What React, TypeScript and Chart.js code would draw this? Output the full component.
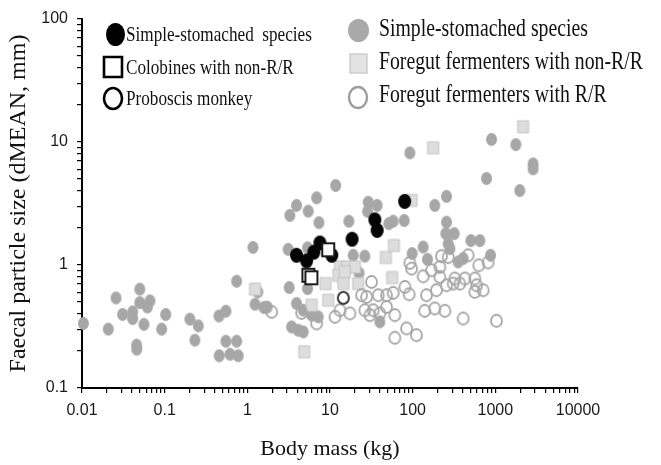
import React, { useEffect, useRef } from 'react';
import { Chart, registerables } from 'chart.js';

Chart.register(...registerables);

// ---------- data (body mass kg, faecal particle size mm) ----------
const simpleGrayMass = [
  0.0104, 0.0208, 0.0258, 0.031, 0.041, 0.041, 0.05, 0.05, 0.0664, 0.0617, 0.0562, 0.0458, 0.046,
  0.103, 0.092, 0.202, 0.255, 0.232, 0.454, 0.551, 0.743, 0.551, 0.743, 0.457, 0.617, 0.776,
  1.17, 1.34, 1.24, 1.59, 1.74,
  11.7, 6.89, 3.94, 3.27, 5.45, 7.34, 3.12, 5.36, 16.9, 29.0, 28.5, 37.2, 51.5, 58.1, 79,
  257, 185, 257, 252, 318, 269, 282, 134, 98.6, 151, 19.1, 26.4, 3.21, 5.36, 22.5, 3.94,
  4.74, 6.0, 7.2, 3.43, 4.12, 4.74, 40.1, 92.5, 506, 650, 875, 355, 408, 899, 1770, 2865,
  2865, 783, 1977,
];
const simpleGraySize = [
  0.335, 0.301, 0.54, 0.396, 0.416, 0.367, 0.636, 0.495, 0.511, 0.456, 0.329, 0.223, 0.207,
  0.396, 0.301, 0.363, 0.32, 0.245, 0.385, 0.421, 0.738, 0.24, 0.24, 0.183, 0.188, 0.183,
  1.39, 0.604, 0.48, 0.451, 0.455,
  4.43, 3.52, 3.05, 2.53, 2.74, 2.21, 1.34, 1.38, 2.27, 3.24, 2.73, 3.05, 2.17, 2.27, 2.3,
  3.61, 3.05, 2.23, 1.8, 1.8, 1.49, 1.36, 1.4, 1.24, 1.11, 1.2, 1.18, 0.656, 0.644, 0.861, 0.486,
  0.429, 0.391, 0.379, 0.314, 0.295, 0.286, 0.345, 8.16, 1.58, 1.58, 1.2, 1.06, 1.13, 10.5, 9.53, 6.64,
  6.05, 5.05, 4.03,
];

const simpleBlackMass = [3.94, 5.21, 6.38, 7.55, 10.5, 18.5, 34.9, 37.2, 80];
const simpleBlackSize = [1.2, 1.08, 1.27, 1.51, 1.2, 1.62, 2.33, 1.91, 3.29];

const colobineMass = [9.51, 5.48, 5.96];
const colobineSize = [1.33, 0.825, 0.787];

const proboscisMass = [14.5];
const proboscisSize = [0.54];

const foregutNonRRMass = [59.3, 47.4, 13.2, 16.1, 20.0, 12.6, 15.1, 8.85, 14.5, 21.9, 56.5, 1.24, 6.0, 9.51, 4.88, 97, 177, 2168];
const foregutNonRRSize = [1.44, 1.15, 0.964, 0.964, 0.964, 0.825, 0.877, 0.706, 0.706, 0.706, 0.791, 0.636, 0.471, 0.517, 0.197, 3.35, 8.96, 13.3];

const foregutRRMass = [
  1.97, 4.54, 6.89, 11.5, 13.2, 17.4, 24.1, 27.7, 31.8, 26.4, 38.3, 48.3, 58.1, 33.3, 40.1, 48.3,
  60.9, 30.4, 80.5, 90.7, 92.5, 97, 134, 169, 213, 257, 194, 147, 223, 269, 213, 324, 428, 469,
  631, 818, 565, 593, 712, 565, 140, 185, 245, 408, 84.4, 111, 60.9, 1033, 372, 309,
];
const foregutRRSize = [
  0.416, 0.408, 0.335, 0.379, 0.429, 0.404, 0.568, 0.55, 0.728, 0.429, 0.568, 0.568, 0.593, 0.429, 0.404, 0.456,
  0.391, 0.391, 0.663, 0.578, 1.04, 0.935, 0.809, 0.906, 0.8, 0.684, 0.624, 0.568, 1.18, 1.16, 0.964, 0.776, 0.776, 1.2,
  0.994, 1.05, 0.776, 0.684, 0.624, 0.604, 0.424, 0.443, 0.424, 0.367, 0.305, 0.269, 0.256, 0.352, 0.706, 0.706,
];

const xTickValues = [0.01, 0.1, 1, 10, 100, 1000, 10000];
const xTickLabels = ['0.01', '0.1', '1', '10', '100', '1000', '10000'];
const yTickValues = [0.1, 1, 10, 100];
const yTickLabels = ['0.1', '1', '10', '100'];

const legendLeftLabels = ['Simple-stomached  species', 'Colobines with non-R/R', 'Proboscis monkey'];
const legendRightLabels = ['Simple-stomached species', 'Foregut fermenters with non-R/R', 'Foregut fermenters with R/R'];

const xTitle = 'Body mass (kg)';
const yTitle = 'Faecal particle size (dMEAN, mm)';

// ---------- helpers ----------
const toPoints = (xs: number[], ys: number[]) => xs.map((x, i) => ({ x, y: ys[i] }));

function ellipseMarker(w: number, h: number, fill: string | null, stroke: string | null, lw: number) {
  const c = document.createElement('canvas');
  const pad = Math.ceil(lw) + 1;
  c.width = w + pad * 2;
  c.height = h + pad * 2;
  const ctx = c.getContext('2d')!;
  ctx.beginPath();
  ctx.ellipse(c.width / 2, c.height / 2, w / 2, h / 2, 0, 0, Math.PI * 2);
  if (fill) { ctx.fillStyle = fill; ctx.fill(); }
  if (stroke) { ctx.strokeStyle = stroke; ctx.lineWidth = lw; ctx.stroke(); }
  return c;
}

function rectMarker(w: number, h: number, fill: string | null, stroke: string | null, lw: number) {
  const c = document.createElement('canvas');
  const pad = Math.ceil(lw) + 1;
  c.width = w + pad * 2;
  c.height = h + pad * 2;
  const ctx = c.getContext('2d')!;
  ctx.beginPath();
  ctx.rect(pad, pad, w, h);
  if (fill) { ctx.fillStyle = fill; ctx.fill(); }
  if (stroke) { ctx.strokeStyle = stroke; ctx.lineWidth = lw; ctx.stroke(); }
  return c;
}

function logTicks(min: number, max: number) {
  const out: { value: number }[] = [];
  const e0 = Math.round(Math.log10(min));
  const e1 = Math.round(Math.log10(max));
  for (let e = e0; e < e1; e++) {
    for (let k = 1; k <= 9; k++) out.push({ value: parseFloat((k * Math.pow(10, e)).toPrecision(6)) });
  }
  out.push({ value: max });
  return out;
}

function labelFor(values: number[], labels: string[]) {
  return (v: number | string) => {
    const n = Number(v);
    const i = values.findIndex((t) => Math.abs(Math.log10(t) - Math.log10(n)) < 1e-6);
    return i >= 0 ? labels[i] : '';
  };
}

export default function App() {
  const ref = useRef<HTMLCanvasElement | null>(null);

  useEffect(() => {
    if (!ref.current) return;

    const grayDot = ellipseMarker(11, 13, '#a7a7a7', null, 0);
    const blackDot = ellipseMarker(13, 15, '#050505', null, 0);
    const colobineSq = rectMarker(12, 13, '#ffffff', '#1a1a1a', 2);
    const proboscisRing = ellipseMarker(11, 12, '#ffffff', '#3a3a3a', 2);
    const lightSq = rectMarker(11, 12, '#dddddd', '#c4c4c4', 1);
    const openRing = ellipseMarker(11, 12, null, '#a6a6a6', 1.8);

    const legBlack = ellipseMarker(19, 23, '#000000', null, 0);
    const legSq = rectMarker(18, 20, '#ffffff', '#000000', 2.6);
    const legRing = ellipseMarker(18, 21, '#ffffff', '#000000', 2.6);
    const legGray = ellipseMarker(21, 23, '#a9a9a9', null, 0);
    const legLightSq = rectMarker(17, 19, '#e3e3e3', '#cdcdcd', 1.5);
    const legOpen = ellipseMarker(18, 21, '#ffffff', '#9d9d9d', 2.4);

    const legendPlugin = {
      id: 'panelLegend',
      afterDraw(chart: any) {
        const ctx: CanvasRenderingContext2D = chart.ctx;
        ctx.save();
        const drawIcon = (img: HTMLCanvasElement, x: number, y: number) =>
          ctx.drawImage(img, Math.round(x - img.width / 2), Math.round(y - img.height / 2));
        const drawText = (txt: string, x: number, y: number, size: number, sx: number) => {
          ctx.save();
          ctx.translate(x, y);
          ctx.scale(sx, 1);
          ctx.font = `${size}px "Liberation Serif", "Times New Roman", serif`;
          ctx.fillStyle = '#111111';
          ctx.textBaseline = 'middle';
          ctx.textAlign = 'left';
          ctx.fillText(txt, 0, 0);
          ctx.restore();
        };
        const leftIcons = [legBlack, legSq, legRing];
        const leftY = [34, 67, 98];
        const leftIconX = [115, 113, 113];
        legendLeftLabels.forEach((t, i) => {
          drawIcon(leftIcons[i], leftIconX[i], leftY[i]);
          drawText(t, 126, leftY[i] + 1, 22, 0.78);
        });
        const rightIcons = [legGray, legLightSq, legOpen];
        const rightIconY = [30, 63, 97];
        const rightTextY = [29, 62, 95];
        legendRightLabels.forEach((t, i) => {
          drawIcon(rightIcons[i], 358, rightIconY[i]);
          drawText(t, 379, rightTextY[i], 25, 0.79);
        });
        ctx.restore();
      },
    };

    const common = { clip: false as any, pointRadius: 6, pointHoverRadius: 6, showLine: false };

    const chart = new Chart(ref.current, {
      type: 'scatter',
      data: {
        datasets: [
          { ...common, label: 'Simple-stomached species (gray)', data: toPoints(simpleGrayMass, simpleGraySize), pointStyle: grayDot as any, order: 6 },
          { ...common, label: 'Foregut fermenters with non-R/R', data: toPoints(foregutNonRRMass, foregutNonRRSize), pointStyle: lightSq as any, order: 5 },
          { ...common, label: 'Foregut fermenters with R/R', data: toPoints(foregutRRMass, foregutRRSize), pointStyle: openRing as any, order: 4 },
          { ...common, label: 'Simple-stomached species', data: toPoints(simpleBlackMass, simpleBlackSize), pointStyle: blackDot as any, order: 3 },
          { ...common, label: 'Colobines with non-R/R', data: toPoints(colobineMass, colobineSize), pointStyle: colobineSq as any, order: 2 },
          { ...common, label: 'Proboscis monkey', data: toPoints(proboscisMass, proboscisSize), pointStyle: proboscisRing as any, order: 1 },
        ],
      },
      options: {
        animation: false,
        responsive: false,
        devicePixelRatio: 1,
        layout: { padding: { left: 0, top: 19, right: 83, bottom: 0 } },
        plugins: { legend: { display: false }, tooltip: { enabled: false } },
        scales: {
          x: {
            type: 'logarithmic',
            min: 0.01,
            max: 10000,
            afterBuildTicks: (scale: any) => { scale.ticks = logTicks(0.01, 10000); },
            afterFit: (scale: any) => { scale.height = 77; },
            ticks: {
              autoSkip: false,
              maxRotation: 0,
              padding: 8,
              color: '#1a1a1a',
              font: { family: '"Liberation Sans", Arial, sans-serif', size: 16 },
              callback: labelFor(xTickValues, xTickLabels),
            },
            grid: { display: true, drawOnChartArea: false, drawTicks: true, tickLength: 5, color: '#000', lineWidth: 1.2 },
            border: { display: true, color: '#000', width: 2 },
            title: {
              display: true,
              text: xTitle,
              color: '#111',
              font: { family: '"Liberation Serif", "Times New Roman", serif', size: 22 },
              padding: { top: 0, bottom: 3 },
            },
          },
          y: {
            type: 'logarithmic',
            min: 0.1,
            max: 100,
            afterBuildTicks: (scale: any) => { scale.ticks = logTicks(0.1, 100); },
            afterFit: (scale: any) => { scale.width = 82; },
            ticks: {
              autoSkip: false,
              padding: 9,
              color: '#1a1a1a',
              font: { family: '"Liberation Sans", Arial, sans-serif', size: 16 },
              callback: labelFor(yTickValues, yTickLabels),
            },
            grid: { display: true, drawOnChartArea: false, drawTicks: true, tickLength: 5, color: '#000', lineWidth: 1.2 },
            border: { display: true, color: '#000', width: 2 },
            title: {
              display: true,
              text: yTitle,
              color: '#111',
              font: { family: '"Liberation Serif", "Times New Roman", serif', size: 24 },
              padding: { top: 4, bottom: 0 },
            },
          },
        },
      },
      plugins: [legendPlugin],
    });

    return () => chart.destroy();
  }, []);

  return (
    <div style={{ position: 'absolute', left: 0, top: 0, width: 661, height: 465, background: '#fff' }}>
      <canvas ref={ref} width={661} height={465} />
    </div>
  );
}
